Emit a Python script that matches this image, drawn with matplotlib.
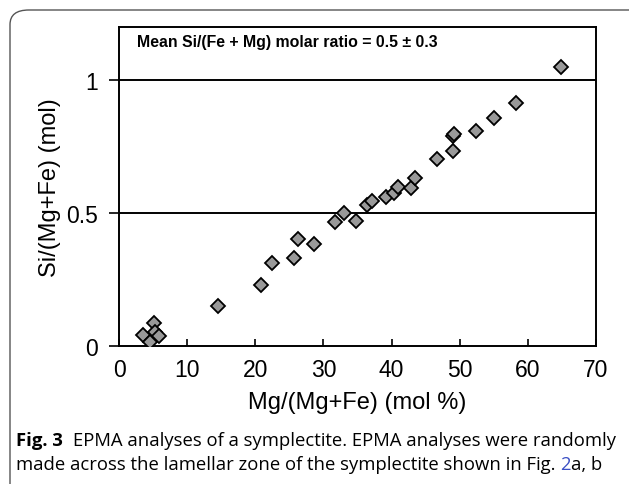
import matplotlib
matplotlib.use("Agg")
import matplotlib.pyplot as plt
from matplotlib.patches import FancyBboxPatch

# Data
mg_pct = [3.5, 4.5, 5.2, 5.3, 5.8,
          14.5, 20.8, 22.4, 25.7, 26.2, 28.6,
          31.7, 33.0, 34.8, 36.4, 37.2, 39.2, 40.3, 41.0, 42.8, 43.4,
          46.7, 49.0, 49.0, 49.1, 52.4, 55.0, 58.3, 64.8]
si_ratio = [0.040, 0.015, 0.084, 0.050, 0.035,
            0.148, 0.229, 0.310, 0.330, 0.401, 0.382,
            0.464, 0.498, 0.468, 0.529, 0.545, 0.560, 0.573, 0.598, 0.595, 0.629,
            0.702, 0.733, 0.789, 0.798, 0.808, 0.855, 0.912, 1.047]
x_ticks = [0, 10, 20, 30, 40, 50, 60, 70]
y_ticks = [0, 0.5, 1]
y_tick_labels = ["0", "0.5", "1"]

W, H = 629, 485
fig = plt.figure(figsize=(W / 100, H / 100), dpi=100)

# rounded frame
frame = FancyBboxPatch((10 / W, -0.2), 1.2, 1 - 11 / H + 0.2,
                       boxstyle="round,pad=0,rounding_size=0.03",
                       transform=fig.transFigure, facecolor="none",
                       edgecolor="#555555", linewidth=1.0, zorder=0)
fig.patches.append(frame)

ax = fig.add_axes([119 / W, 1 - 346.7 / H, (596 - 119) / W, (346.7 - 27.7) / H])
ax.set_xlim(0, 70)
ax.set_ylim(0, 1.2)
ax.set_xticks(x_ticks)
ax.set_yticks(y_ticks)
ax.set_yticklabels(y_tick_labels)

for yv in [0.5, 1.0]:
    ax.axhline(yv, color="black", linewidth=1.4, zorder=1)

ax.plot(mg_pct, si_ratio, linestyle="none", marker="D", markersize=7,
        markerfacecolor="#999999", markeredgecolor="black",
        markeredgewidth=1.3, zorder=3)

for s in ax.spines.values():
    s.set_linewidth(1.4)
    s.set_color("black")

fam = ["Liberation Sans", "DejaVu Sans"]
ax.tick_params(axis="x", direction="in", length=5, width=1.2, labelsize=16.5,
               pad=9)
ax.tick_params(axis="y", direction="out", length=7, width=1.2, labelsize=16.5,
               pad=8)
for lbl in ax.get_xticklabels() + ax.get_yticklabels():
    lbl.set_fontfamily(fam)

ax.set_xlabel("Mg/(Mg+Fe) (mol %)", fontsize=17, family=fam, labelpad=7)
ax.set_ylabel("Si/(Mg+Fe) (mol)", fontsize=17, family=fam, labelpad=4)

ax.text(0.038, 0.955, "Mean Si/(Fe + Mg) molar ratio = 0.5 \u00b1 0.3",
        transform=ax.transAxes, ha="left", va="center", fontsize=11.4,
        fontweight="bold", family=fam)

cap_fam = ["Open Sans", "DejaVu Sans"]
cap_fs = 13.3
fig.canvas.draw()
r = fig.canvas.get_renderer()


def put(x_px, y_px, s, **kw):
    t = fig.text(x_px / W, 1 - y_px / H, s, fontsize=cap_fs, family=cap_fam,
                 va="baseline", ha="left", **kw)
    return t.get_window_extent(renderer=r).x1


x = put(16, 446, "Fig. 3", fontweight="bold")
put(x + 10, 446, "EPMA analyses of a symplectite. EPMA analyses were randomly")
x = put(16, 470, "made across the lamellar zone of the symplectite shown in Fig.\u00a0")
x = put(x, 470, "2", color="#3b4fc4")
put(x, 470, "a, b")

fig.savefig("out.png", dpi=100)
